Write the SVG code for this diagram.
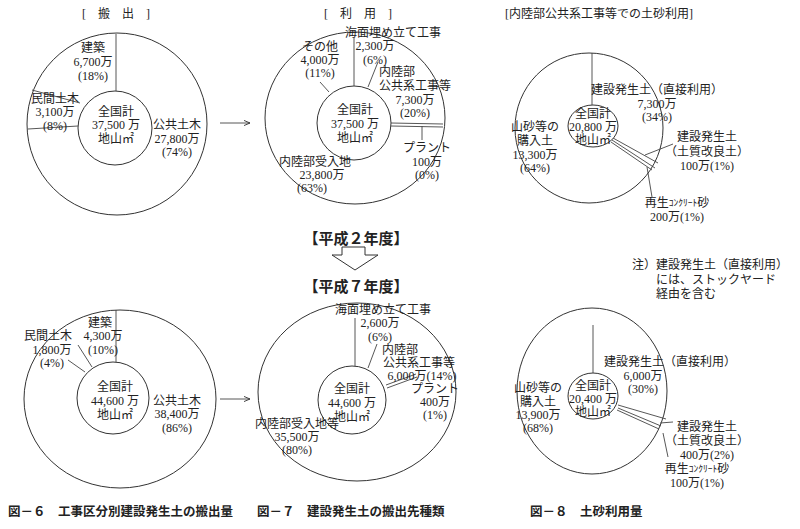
<svg xmlns="http://www.w3.org/2000/svg" width="800" height="529" viewBox="0 0 800 529">
<style>
text{font-family:"Liberation Serif","Noto Sans CJK JP",serif;font-size:12px;fill:#222;text-anchor:middle;dominant-baseline:central}
.c{fill:none;stroke:#333;stroke-width:1}
.l{stroke:#444;stroke-width:0.9;fill:none}
.cap{font-family:"Noto Sans CJK JP",sans-serif;font-weight:bold;font-size:12.5px;text-anchor:start}
.yr{font-family:"Noto Sans CJK JP",sans-serif;font-weight:bold;font-size:15px}
.st{text-anchor:start}
</style>
<defs><marker id="ah" markerWidth="8" markerHeight="8" refX="7" refY="4" orient="auto"><path d="M0,1 L7,4 L0,7" fill="none" stroke="#333" stroke-width="1"/></marker></defs>

<text x="116" y="14">[　搬　出　]</text>
<text x="358" y="14">[　利　用　]</text>
<text x="505" y="14" class="st">[内陸部公共系工事等での土砂利用]</text>

<g id="fig6-h2">
<ellipse class="c" cx="117" cy="124" rx="90" ry="91"/>
<circle class="c" cx="115" cy="128" r="37"/>
<line class="l" x1="116" y1="91" x2="116" y2="34"/>
<line class="l" x1="80" y1="103" x2="32" y2="90"/>
<line class="l" x1="78" y1="126" x2="28" y2="129"/>
<text x="93" y="48">建築</text><text x="93" y="62">6,700万</text><text x="93" y="76">(18%)</text>
<text x="55" y="99">民間土木</text><text x="55" y="112">3,100万</text><text x="55" y="126">(8%)</text>
<text x="116" y="112">全国計</text><text x="116" y="125">37,500 万</text><text x="116" y="139">地山㎡</text>
<text x="177" y="125">公共土木</text><text x="177" y="139">27,800万</text><text x="177" y="152">(74%)</text>
</g>

<g id="fig7-h2">
<ellipse class="c" cx="355" cy="118" rx="90" ry="86"/>
<circle class="c" cx="354" cy="123" r="37"/>
<line class="l" x1="354" y1="86" x2="354" y2="38"/>
<line class="l" x1="368" y1="87" x2="378" y2="62"/>
<line class="l" x1="329" y1="92" x2="320" y2="82"/>
<line class="l" x1="391" y1="123" x2="443" y2="124"/>
<line class="l" x1="391" y1="126" x2="443" y2="127"/>
<line class="l" x1="422" y1="126" x2="422" y2="140"/>
<text x="393" y="33">海面埋め立て工事</text><text x="375" y="46">2,300万</text><text x="375" y="60">(6%)</text>
<text x="320" y="47">その他</text><text x="320" y="60">4,000万</text><text x="320" y="73">(11%)</text>
<text x="397" y="72">内陸部</text><text x="415" y="86">公共系工事等</text><text x="415" y="100">7,300万</text><text x="415" y="113">(20%)</text>
<text x="355" y="110">全国計</text><text x="355" y="124">37,500 万</text><text x="355" y="138">地山㎡</text>
<text x="427" y="148">プラント</text><text x="427" y="162">100万</text><text x="427" y="175">(0%)</text>
<text x="315" y="162">内陸部受入地</text><text x="322" y="175">23,800万</text><text x="312" y="188">(63%)</text>
</g>

<g id="fig8-h2">
<ellipse class="c" cx="589" cy="128" rx="74" ry="75"/>
<ellipse class="c" cx="593" cy="126" rx="25" ry="21"/>
<line class="l" x1="592" y1="105" x2="592" y2="53"/>
<line class="l" x1="613" y1="138" x2="658" y2="163"/>
<line class="l" x1="612" y1="140" x2="655" y2="168"/>
<line class="l" x1="611" y1="142" x2="652" y2="170"/>
<line class="l" x1="645" y1="155" x2="673" y2="144"/>
<line class="l" x1="647" y1="167" x2="652" y2="197"/>
<text x="657" y="90">建設発生土（直接利用）</text><text x="657" y="104">7,300万</text><text x="657" y="117">(34%)</text>
<text x="593" y="114">全国計</text><text x="593" y="127">20,800 万</text><text x="593" y="140">地山㎡</text>
<text x="535" y="127">山砂等の</text><text x="535" y="141">購入土</text><text x="535" y="155">13,300万</text><text x="535" y="168">(64%)</text>
<text x="707" y="137">建設発生土</text><text x="707" y="152">（土質改良土）</text><text x="707" y="166">100万(1%)</text>
<text x="677" y="203">再生<tspan font-size="9.5">ｺﾝｸﾘｰﾄ</tspan>砂</text><text x="677" y="217">200万(1%)</text>
</g>

<g id="note">
<text x="632" y="265" class="st">注）建設発生土（直接利用）</text>
<text x="656" y="280" class="st">には、ストックヤード</text>
<text x="656" y="294" class="st">経由を含む</text>
</g>

<g id="years">
<text x="356" y="237" class="yr">【平成２年度】</text>
<path d="M342,247 H365 V255 H378 L355,270 L332,255 H342 Z" fill="none" stroke="#333" stroke-width="1"/>
<text x="356" y="285" class="yr">【平成７年度】</text>
</g>

<g id="fig6-h7">
<ellipse class="c" cx="120" cy="399" rx="96" ry="89"/>
<circle class="c" cx="113" cy="398" r="36"/>
<line class="l" x1="116" y1="362" x2="116" y2="310"/>
<line class="l" x1="92" y1="367" x2="78" y2="345"/>
<line class="l" x1="85" y1="372" x2="68" y2="360"/>
<text x="100" y="323">建築</text><text x="103" y="336">4,300万</text><text x="103" y="350">(10%)</text>
<text x="48" y="336">民間土木</text><text x="52" y="350">1,800万</text><text x="52" y="363">(4%)</text>
<text x="115" y="387">全国計</text><text x="115" y="401">44,600 万</text><text x="115" y="415">地山㎡</text>
<text x="177" y="401">公共土木</text><text x="177" y="414">38,400万</text><text x="177" y="428">(86%)</text>
</g>

<g id="fig7-h7">
<ellipse class="c" cx="357" cy="392" rx="99" ry="89"/>
<circle class="c" cx="352" cy="400" r="34"/>
<line class="l" x1="355" y1="366" x2="355" y2="318"/>
<line class="l" x1="368" y1="368" x2="377" y2="344"/>
<line class="l" x1="386" y1="385" x2="416" y2="374"/>
<line class="l" x1="387" y1="388" x2="417" y2="377"/>
<text x="383" y="310">海面埋め立て工事</text><text x="380" y="323">2,600万</text><text x="380" y="337">(6%)</text>
<text x="400" y="350">内陸部</text><text x="419" y="363">公共系工事等</text><text x="422" y="376">6,000万(14%)</text>
<text x="435" y="389">プラント</text><text x="435" y="402">400万</text><text x="435" y="415">(1%)</text>
<text x="352" y="389">全国計</text><text x="352" y="403">44,600 万</text><text x="352" y="417">地山㎡</text>
<text x="297" y="424">内陸部受入地等</text><text x="297" y="437">35,500万</text><text x="297" y="450">(80%)</text>
</g>

<g id="fig8-h7">
<ellipse class="c" cx="592" cy="391" rx="75" ry="83"/>
<ellipse class="c" cx="593" cy="396" rx="25" ry="23"/>
<line class="l" x1="593" y1="373" x2="593" y2="325"/>
<line class="l" x1="618" y1="405" x2="666" y2="419"/>
<line class="l" x1="618" y1="408" x2="661" y2="426"/>
<line class="l" x1="617" y1="410" x2="659" y2="429"/>
<line class="l" x1="660" y1="423" x2="673" y2="422"/>
<line class="l" x1="663" y1="433" x2="668" y2="457"/>
<text x="670" y="362">建設発生土（直接利用）</text><text x="643" y="376">6,000万</text><text x="643" y="389">(30%)</text>
<text x="593" y="386">全国計</text><text x="593" y="399">20,400 万</text><text x="593" y="412">地山㎡</text>
<text x="538" y="388">山砂等の</text><text x="538" y="402">購入土</text><text x="538" y="415">13,900万</text><text x="538" y="428">(68%)</text>
<text x="707" y="427">建設発生土</text><text x="707" y="441">（土質改良土）</text><text x="707" y="455">400万(2%)</text>
<text x="697" y="469">再生<tspan font-size="9.5">ｺﾝｸﾘｰﾄ</tspan>砂</text><text x="697" y="483">100万(1%)</text>
</g>

<g id="connectors">
<line class="l" x1="220" y1="123" x2="250" y2="123" marker-end="url(#ah)"/>
<line class="l" x1="220" y1="399" x2="250" y2="399" marker-end="url(#ah)"/>
</g>

<text x="8" y="510" class="cap">図－６　工事区分別建設発生土の搬出量</text>
<text x="257" y="510" class="cap">図－７　建設発生土の搬出先種類</text>
<text x="530" y="510" class="cap">図－８　土砂利用量</text>
</svg>
